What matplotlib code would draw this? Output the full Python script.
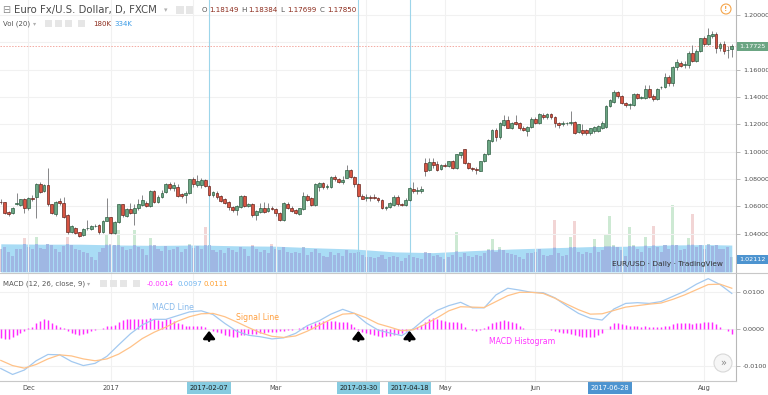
import matplotlib
matplotlib.use("Agg")
import matplotlib.pyplot as plt
import matplotlib.transforms as mtransforms
from matplotlib.patches import Rectangle, Ellipse
import numpy as np

plt.rcParams['font.family'] = ['DejaVu Sans']

W, H = 768, 395

# ---------------- data (EUR/USD daily, FXCM) ----------------
open_ = [
    1.0635, 1.0629, 1.0560, 1.0549, 1.0620, 1.0609, 1.0651, 1.0585, 1.0660, 1.0666,
    1.0763, 1.0712, 1.0755, 1.0614, 1.0540, 1.0640, 1.0626, 1.0536, 1.0414, 1.0444,
    1.0410, 1.0390, 1.0438, 1.0436, 1.0453, 1.0463, 1.0414, 1.0494, 1.0519, 1.0406,
    1.0487, 1.0614, 1.0527, 1.0578, 1.0553, 1.0585, 1.0610, 1.0625, 1.0603, 1.0714,
    1.0633, 1.0665, 1.0705, 1.0763, 1.0731, 1.0743, 1.0690, 1.0680, 1.0695, 1.0797,
    1.0757, 1.0758, 1.0790, 1.0750, 1.0682, 1.0700, 1.0672, 1.0651, 1.0633, 1.0593,
    1.0573, 1.0597, 1.0675, 1.0605, 1.0617, 1.0536, 1.0560, 1.0585, 1.0565, 1.0590,
    1.0577, 1.0553, 1.0499, 1.0617, 1.0590, 1.0575, 1.0543, 1.0578, 1.0675, 1.0658,
    1.0609, 1.0740, 1.0768, 1.0738, 1.0740, 1.0815, 1.0797, 1.0780, 1.0810, 1.0863,
    1.0815, 1.0765, 1.0675, 1.0660, 1.0665, 1.0670, 1.0663, 1.0646, 1.0588, 1.0595,
    1.0609, 1.0670, 1.0617, 1.0609, 1.0646, 1.0730, 1.0713, 1.0712, 1.0919, 1.0865,
    1.0926, 1.0907, 1.0870, 1.0905, 1.0895, 1.0931, 1.0878, 1.0975, 1.1017, 1.0919,
    1.0878, 1.0875, 1.0860, 1.0931, 1.0982, 1.1080, 1.1158, 1.1110, 1.1193, 1.1231,
    1.1175, 1.1215, 1.1207, 1.1170, 1.1153, 1.1182, 1.1239, 1.1207, 1.1268, 1.1251,
    1.1273, 1.1251, 1.1212, 1.1205, 1.1208, 1.1210, 1.1215, 1.1141, 1.1160, 1.1158,
    1.1138, 1.1150, 1.1150, 1.1175, 1.1182, 1.1334, 1.1365, 1.1434, 1.1407, 1.1358,
    1.1345, 1.1341, 1.1420, 1.1393, 1.1395, 1.1458, 1.1407, 1.1387, 1.1470, 1.1475,
    1.1548, 1.1504, 1.1622, 1.1651, 1.1637, 1.1634, 1.1724, 1.1663, 1.1739, 1.1829,
    1.1788, 1.1848, 1.1861, 1.1756, 1.1788, 1.1742, 1.1750]
high = [
    1.0650, 1.0635, 1.0565, 1.0595, 1.0695, 1.0655, 1.0660, 1.0665, 1.0680, 1.0770,
    1.0775, 1.0765, 1.0878, 1.0620, 1.0640, 1.0658, 1.0670, 1.0540, 1.0460, 1.0450,
    1.0415, 1.0440, 1.0500, 1.0465, 1.0470, 1.0470, 1.0500, 1.0658, 1.0525, 1.0495,
    1.0620, 1.0620, 1.0585, 1.0626, 1.0620, 1.0655, 1.0685, 1.0640, 1.0720, 1.0720,
    1.0680, 1.0720, 1.0770, 1.0775, 1.0775, 1.0760, 1.0700, 1.0715, 1.0800, 1.0817,
    1.0829, 1.0805, 1.0800, 1.0755, 1.0710, 1.0710, 1.0685, 1.0660, 1.0640, 1.0600,
    1.0610, 1.0680, 1.0680, 1.0625, 1.0625, 1.0575, 1.0626, 1.0630, 1.0625, 1.0600,
    1.0585, 1.0555, 1.0630, 1.0630, 1.0600, 1.0580, 1.0590, 1.0707, 1.0690, 1.0665,
    1.0770, 1.0780, 1.0780, 1.0760, 1.0822, 1.0830, 1.0805, 1.0820, 1.0905, 1.0875,
    1.0820, 1.0770, 1.0690, 1.0690, 1.0680, 1.0690, 1.0670, 1.0650, 1.0605, 1.0635,
    1.0680, 1.0680, 1.0625, 1.0660, 1.0740, 1.0778, 1.0740, 1.0745, 1.0951, 1.0950,
    1.0950, 1.0930, 1.0910, 1.0915, 1.0935, 1.0940, 1.0985, 1.0998, 1.1023, 1.0925,
    1.0890, 1.0885, 1.0935, 1.0990, 1.1090, 1.1165, 1.1170, 1.1215, 1.1268, 1.1261,
    1.1220, 1.1268, 1.1215, 1.1185, 1.1190, 1.1250, 1.1255, 1.1285, 1.1285, 1.1285,
    1.1285, 1.1260, 1.1220, 1.1225, 1.1220, 1.1296, 1.1225, 1.1205, 1.1200, 1.1165,
    1.1175, 1.1190, 1.1195, 1.1225, 1.1345, 1.1385, 1.1450, 1.1445, 1.1415, 1.1365,
    1.1355, 1.1430, 1.1430, 1.1410, 1.1488, 1.1490, 1.1420, 1.1465, 1.1480, 1.1578,
    1.1560, 1.1630, 1.1680, 1.1665, 1.1660, 1.1735, 1.1777, 1.1750, 1.1835, 1.1845,
    1.1903, 1.1880, 1.1878, 1.1800, 1.1810, 1.1770, 1.1785]
low = [
    1.0620, 1.0543, 1.0530, 1.0540, 1.0610, 1.0600, 1.0548, 1.0575, 1.0640, 1.0512,
    1.0700, 1.0705, 1.0605, 1.0545, 1.0530, 1.0610, 1.0515, 1.0395, 1.0405, 1.0400,
    1.0375, 1.0385, 1.0426, 1.0430, 1.0445, 1.0397, 1.0405, 1.0490, 1.0397, 1.0400,
    1.0480, 1.0525, 1.0520, 1.0545, 1.0463, 1.0575, 1.0600, 1.0595, 1.0595, 1.0625,
    1.0625, 1.0660, 1.0700, 1.0720, 1.0715, 1.0670, 1.0660, 1.0626, 1.0690, 1.0740,
    1.0740, 1.0735, 1.0740, 1.0675, 1.0670, 1.0655, 1.0630, 1.0615, 1.0575, 1.0560,
    1.0536, 1.0590, 1.0595, 1.0595, 1.0525, 1.0499, 1.0550, 1.0550, 1.0555, 1.0570,
    1.0529, 1.0495, 1.0495, 1.0580, 1.0560, 1.0540, 1.0535, 1.0570, 1.0640, 1.0600,
    1.0600, 1.0714, 1.0730, 1.0725, 1.0735, 1.0785, 1.0770, 1.0765, 1.0805, 1.0805,
    1.0740, 1.0665, 1.0650, 1.0640, 1.0640, 1.0650, 1.0635, 1.0580, 1.0570, 1.0590,
    1.0600, 1.0605, 1.0600, 1.0600, 1.0640, 1.0700, 1.0690, 1.0700, 1.0821, 1.0855,
    1.0880, 1.0855, 1.0865, 1.0885, 1.0885, 1.0870, 1.0870, 1.0955, 1.0910, 1.0870,
    1.0860, 1.0838, 1.0855, 1.0925, 1.0975, 1.1070, 1.1075, 1.1090, 1.1185, 1.1170,
    1.1165, 1.1195, 1.1160, 1.1150, 1.1114, 1.1175, 1.1200, 1.1200, 1.1240, 1.1240,
    1.1240, 1.1182, 1.1175, 1.1185, 1.1195, 1.1195, 1.1130, 1.1135, 1.1125, 1.1120,
    1.1120, 1.1140, 1.1145, 1.1165, 1.1175, 1.1325, 1.1355, 1.1395, 1.1350, 1.1330,
    1.1315, 1.1335, 1.1385, 1.1385, 1.1385, 1.1390, 1.1370, 1.1380, 1.1460, 1.1465,
    1.1480, 1.1480, 1.1600, 1.1620, 1.1610, 1.1610, 1.1655, 1.1655, 1.1730, 1.1775,
    1.1780, 1.1835, 1.1720, 1.1740, 1.1715, 1.1688, 1.1695]
close = [
    1.0628, 1.0553, 1.0543, 1.0590, 1.0623, 1.0651, 1.0585, 1.0658, 1.0650, 1.0763,
    1.0707, 1.0755, 1.0614, 1.0553, 1.0633, 1.0621, 1.0524, 1.0409, 1.0456, 1.0408,
    1.0385, 1.0431, 1.0441, 1.0453, 1.0457, 1.0414, 1.0494, 1.0519, 1.0406, 1.0487,
    1.0614, 1.0536, 1.0578, 1.0553, 1.0585, 1.0617, 1.0646, 1.0605, 1.0714, 1.0633,
    1.0670, 1.0700, 1.0763, 1.0731, 1.0755, 1.0675, 1.0677, 1.0700, 1.0797, 1.0763,
    1.0787, 1.0792, 1.0750, 1.0683, 1.0703, 1.0665, 1.0640, 1.0622, 1.0593, 1.0573,
    1.0604, 1.0675, 1.0604, 1.0615, 1.0536, 1.0567, 1.0585, 1.0560, 1.0590, 1.0578,
    1.0548, 1.0499, 1.0626, 1.0585, 1.0565, 1.0548, 1.0585, 1.0675, 1.0646, 1.0609,
    1.0761, 1.0768, 1.0743, 1.0748, 1.0815, 1.0797, 1.0780, 1.0795, 1.0865, 1.0815,
    1.0765, 1.0675, 1.0655, 1.0668, 1.0660, 1.0662, 1.0643, 1.0590, 1.0590, 1.0625,
    1.0670, 1.0614, 1.0610, 1.0646, 1.0736, 1.0710, 1.0715, 1.0725, 1.0858, 1.0926,
    1.0902, 1.0865, 1.0902, 1.0895, 1.0931, 1.0878, 1.0980, 1.0995, 1.0919, 1.0878,
    1.0870, 1.0865, 1.0931, 1.0982, 1.1085, 1.1158, 1.1110, 1.1207, 1.1231, 1.1175,
    1.1212, 1.1202, 1.1175, 1.1158, 1.1182, 1.1239, 1.1207, 1.1275, 1.1251, 1.1273,
    1.1251, 1.1207, 1.1195, 1.1208, 1.1210, 1.1215, 1.1138, 1.1200, 1.1134, 1.1134,
    1.1170, 1.1182, 1.1187, 1.1212, 1.1334, 1.1378, 1.1439, 1.1407, 1.1358, 1.1339,
    1.1348, 1.1420, 1.1395, 1.1398, 1.1458, 1.1398, 1.1387, 1.1458, 1.1473, 1.1548,
    1.1504, 1.1622, 1.1658, 1.1629, 1.1641, 1.1724, 1.1663, 1.1739, 1.1829, 1.1788,
    1.1854, 1.1861, 1.1756, 1.1788, 1.1739, 1.1745, 1.1773]

# volume in thousands
volume_k = [
    280, 310, 250, 200, 290, 280, 420, 310, 280, 440,
    300, 290, 350, 330, 280, 250, 320, 440, 330, 280,
    270, 250, 230, 180, 150, 250, 300, 460, 350, 330,
    520, 310, 270, 280, 520, 310, 290, 210, 420, 330,
    280, 260, 320, 270, 280, 310, 250, 280, 350, 300,
    320, 290, 560, 330, 270, 250, 270, 230, 300, 270,
    250, 310, 290, 200, 330, 280, 250, 270, 230, 350,
    280, 270, 310, 250, 230, 250, 240, 310, 210, 250,
    290, 230, 200, 190, 250, 210, 230, 200, 270, 240,
    230, 250, 210, 180, 190, 170, 180, 210, 160, 180,
    200, 190, 140, 170, 210, 190, 170, 160, 250, 230,
    200, 210, 190, 160, 180, 210, 490, 190, 230, 200,
    190, 210, 200, 230, 280, 410, 250, 310, 270, 230,
    220, 210, 190, 160, 230, 240, 250, 280, 210, 200,
    210, 650, 230, 200, 210, 430, 630, 250, 220, 250,
    230, 410, 250, 270, 470, 700, 330, 310, 270, 200,
    560, 330, 290, 250, 430, 300, 570, 310, 250, 330,
    290, 830, 330, 270, 290, 420, 720, 310, 330, 290,
    350, 320, 330, 290, 280, 310, 180]
vol_ma_bar = [0, 10, 20, 30, 40, 50, 60, 70, 80, 90, 100, 110, 120, 130, 140, 150, 160, 170, 180, 186]
vol_ma_k = [350, 345, 345, 335, 330, 335, 325, 320, 300, 285, 250, 240, 265, 285, 300, 315, 320, 335, 340, 334]

# MACD (12, 26, close, 9), lines read every third bar
macd_bar = list(range(0, 97, 3)) + list(range(99, 187, 3))
macd_line = [
    -0.0106, -0.0122, -0.0110, -0.0085, -0.0068, -0.0069, -0.0087, -0.0098, -0.0092, -0.0073,
    -0.0042, -0.0012, 0.0012, 0.0027, 0.0027, 0.0037, 0.0047, 0.0050, 0.0040, 0.0016,
    -0.0005, -0.0016, -0.0020, -0.0026, -0.0023, -0.0011, 0.0010, 0.0023, 0.0041, 0.0054,
    0.0043, 0.0017, -0.0002,
    -0.0010, -0.0017, 0.0002, 0.0029, 0.0051, 0.0064, 0.0073, 0.0058, 0.0058, 0.0093,
    0.0111, 0.0106, 0.0100, 0.0099, 0.0085, 0.0063, 0.0043, 0.0030, 0.0025, 0.0055,
    0.0070, 0.0072, 0.0070, 0.0075, 0.0089, 0.0103, 0.0122, 0.0137, 0.0121, 0.0097]
signal_line = [
    -0.0084, -0.0098, -0.0105, -0.0095, -0.0080, -0.0069, -0.0072, -0.0080, -0.0085, -0.0080,
    -0.0067, -0.0048, -0.0025, -0.0008, 0.0006, 0.0022, 0.0034, 0.0042, 0.0043, 0.0034,
    0.0020, 0.0005, -0.0009, -0.0019, -0.0022, -0.0018, -0.0005, 0.0011, 0.0027, 0.0041,
    0.0043, 0.0031, 0.0015,
    0.0006, -0.0004, -0.0001, 0.0014, 0.0031, 0.0050, 0.0061, 0.0060, 0.0059, 0.0075,
    0.0091, 0.0100, 0.0100, 0.0097, 0.0084, 0.0068, 0.0053, 0.0041, 0.0042, 0.0051,
    0.0060, 0.0064, 0.0068, 0.0071, 0.0081, 0.0093, 0.0107, 0.0121, 0.0122, 0.0111]
macd_hist = [
    -0.0024, -0.0027, -0.0027, -0.0022, -0.0015, -0.0009, -0.0004,
    0.0003, 0.0007,
    0.0016, 0.0023, 0.0027, 0.0025, 0.0018, 0.0012, 0.0007, 0.0003,
    -0.0004, -0.0009, -0.0013, -0.0015, -0.0013, -0.0009, -0.0005, -0.0002,
    0.0000, 0.0003, 0.0009, 0.0009, 0.0012, 0.0021, 0.0025, 0.0027,
    0.0027, 0.0027, 0.0027, 0.0028, 0.0027, 0.0030, 0.0028, 0.0025,
    0.0023, 0.0027, 0.0027, 0.0023, 0.0018, 0.0014, 0.0010, 0.0009,
    0.0009, 0.0009, 0.0009, 0.0007, 0.0000, -0.0004, -0.0006, -0.0011,
    -0.0015, -0.0018, -0.0022, -0.0020, -0.0015, -0.0015, -0.0013, -0.0013,
    -0.0013, -0.0009, -0.0009, -0.0006, -0.0006, -0.0006, -0.0004, -0.0004,
    -0.0002, -0.0002, 0.0000, 0.0003, 0.0007, 0.0009, 0.0012, 0.0016,
    0.0021, 0.0023, 0.0023, 0.0023, 0.0023, 0.0021, 0.0019, 0.0019,
    0.0014, 0.0007, -0.0002, -0.0006, -0.0011, -0.0013, -0.0015, -0.0018,
    -0.0020, -0.0018, -0.0018, -0.0015, -0.0013, -0.0009, -0.0004, 0.0000,
    0.0003, 0.0007, 0.0012, 0.0021, 0.0027, 0.0030, 0.0027, 0.0025,
    0.0023, 0.0021, 0.0021, 0.0019, 0.0016, 0.0007, 0.0000, -0.0003,
    -0.0004, -0.0002, 0.0003, 0.0009, 0.0016, 0.0021, 0.0023, 0.0025,
    0.0023, 0.0021, 0.0016, 0.0010, 0.0003, 0.0001, 0.0000, 0.0001,
    0.0001, 0.0000, 0.0000, -0.0002, -0.0004, -0.0006, -0.0009, -0.0011,
    -0.0013, -0.0015, -0.0018, -0.0020, -0.0022, -0.0020, -0.0020, -0.0015,
    -0.0011, 0.0000, 0.0009, 0.0018, 0.0018, 0.0014, 0.0012, 0.0010,
    0.0009, 0.0009, 0.0007, 0.0009, 0.0007, 0.0005, 0.0005, 0.0007,
    0.0009, 0.0010, 0.0014, 0.0016, 0.0016, 0.0016, 0.0016, 0.0014,
    0.0016, 0.0018, 0.0021, 0.0021, 0.0019, 0.0014, 0.0007, 0.0000,
    -0.0004, -0.0014]

# time axis (bar numbers)
month_ticks = [7, 28, 70, 113, 136, 179]
month_labels = ["Dec", "2017", "Mar", "May", "Jun", "Aug"]
grid_bars = [7, 28, 49, 70, 93, 113, 136, 158, 179]
marked_bars = [53, 91, 104]
marked_labels = ["2017-02-07", "2017-03-30", "2017-04-18"]
cursor_bar = 155
cursor_label = "2017-06-28"

price_ticks = [1.04, 1.06, 1.08, 1.10, 1.12, 1.14, 1.16, 1.18, 1.20]
macd_ticks = [-0.01, 0.0, 0.01]
last_price = 1.17725
cursor_price = 1.02112

# ---------------- colours ----------------
UP, UP_EDGE = "#6ba583", "#225437"
DN, DN_EDGE = "#d75442", "#5b1a13"
WICK = "#737375"
GRID = "#f1f1f1"
AXIS_TXT = "#4e4e4e"


def fx(x):
    return x / W


def fy(y):
    return 1 - y / H


fig = plt.figure(figsize=(W / 100, H / 100), dpi=100)
fig.patch.set_facecolor("white")

ax = fig.add_axes([0, fy(272), fx(736), 272 / H])
axm = fig.add_axes([0, fy(381), fx(736), 108 / H])
axv = ax.twinx()

o = np.array(open_)
c = np.array(close)
hi = np.array(high)
lo = np.array(low)
bars = np.arange(len(c))
up = c >= o

ax.set_xlim(-0.2, 187.07)
ax.set_ylim(1.0119, 1.2110)
axm.set_xlim(-0.2, 187.07)
axm.set_ylim(-0.01397, 0.01522)

# ---- volume (behind the candles) ----
ax.set_zorder(2)
ax.patch.set_visible(False)
axv.set_zorder(1)
axv.set_ylim(0, 3373)
axv.set_axis_off()
vol_cols = np.where(up, "#cde9d3", "#f2d5d5")
axv.bar(bars, volume_k, width=0.78, color=vol_cols, linewidth=0, zorder=1)
ma_area = axv.fill_between(vol_ma_bar, vol_ma_k, color="#a9dcf5", linewidth=0, zorder=2)
under = axv.bar(bars, volume_k, width=0.78, color="#9fb7e3", linewidth=0, zorder=3)
clip = ma_area.get_paths()[0]
for p in under:
    p.set_clip_path(clip, axv.transData)

# ---- grid ----
for b in grid_bars:
    ax.axvline(b, color=GRID, lw=0.8, zorder=0)
    axm.axvline(b, color=GRID, lw=0.8, zorder=0)
for p in price_ticks:
    ax.axhline(p, color=GRID, lw=0.8, zorder=0)
for v in macd_ticks:
    axm.axhline(v, color=GRID, lw=0.8, zorder=0)

# drawn vertical lines
for b in marked_bars:
    ax.axvline(b, color="#9dd5ea", lw=0.8, zorder=3)

# current price line
ax.axhline(last_price, color="#f3aaa2", lw=0.7, ls=(0, (1.5, 1.5)), zorder=3)

# ---- candles ----
ax.vlines(bars, lo, hi, color=WICK, lw=0.6, zorder=4)
body_lo = np.minimum(o, c)
body_h = np.maximum(np.abs(c - o), 0.0004)
ax.bar(bars, body_h, bottom=body_lo, width=0.72,
       color=np.where(up, UP, DN), edgecolor=np.where(up, UP_EDGE, DN_EDGE),
       linewidth=0.45, zorder=5)

# ---- MACD pane ----
axm.vlines(bars, 0, macd_hist, color="#ff2bff", lw=1.05, zorder=2)
axm.plot(macd_bar, macd_line, color="#a3c9f0", lw=0.9, zorder=3)
axm.plot(macd_bar, signal_line, color="#ffc288", lw=0.9, zorder=3)
for b in marked_bars:
    axm.annotate("", xy=(b, -0.0004), xytext=(b, -0.0031),
                 arrowprops=dict(arrowstyle="-|>,head_width=0.35,head_length=0.45",
                                 color="black", lw=1.8, shrinkA=0, shrinkB=0),
                 zorder=6)

# ---- axes styling ----
for a in (ax, axm):
    for s in ("left", "top", "bottom"):
        a.spines[s].set_visible(False)
    a.spines["right"].set_color("#b8b8b8")
    a.spines["right"].set_linewidth(0.8)
    a.yaxis.tick_right()
    a.tick_params(axis="x", length=0, labelbottom=False)
    a.tick_params(axis="y", direction="out", length=3, width=0.6, color="#b0b0b0",
                  labelsize=4.6, labelcolor=AXIS_TXT, pad=2)
ax.set_yticks(price_ticks)
# the 1.18000 label sits under the last-price box
ax.set_yticklabels(["" if abs(p - 1.18) < 1e-9 else f"{p:.5f}" for p in price_ticks])
axm.set_yticks(macd_ticks)
axm.set_yticklabels([f"{v:.4f}" for v in macd_ticks])

# price axis value boxes
for price, col in ((last_price, "#6ba583"), (cursor_price, "#4d94d0")):
    ax.annotate(f"{price:.5f}", xy=(1, price), xycoords=("axes fraction", "data"),
                xytext=(3.5, 0), textcoords="offset pixels", ha="left", va="center",
                fontsize=4.6, color="white", annotation_clip=False,
                bbox=dict(boxstyle="square,pad=0.32", fc=col, ec="none"), zorder=10)

# pane separators
fig.add_artist(plt.Line2D([0, 1], [fy(272.6), fy(272.6)], color="#c8c8c8", lw=0.8,
                          transform=fig.transFigure))
fig.add_artist(plt.Line2D([0, fx(736)], [fy(381), fy(381)], color="#c8c8c8", lw=0.8,
                          transform=fig.transFigure))

# ---- time axis labels ----
bt = mtransforms.blended_transform_factory(axm.transData, fig.transFigure)
for b, lab in zip(month_ticks, month_labels):
    axm.text(b, fy(388), lab, transform=bt, ha="center", va="center", fontsize=4.8,
             color=AXIS_TXT, clip_on=False)
for b, lab in zip(marked_bars, marked_labels):
    axm.text(b, fy(388), lab, transform=bt, ha="center", va="center", fontsize=4.8,
             color="#1e1e1e", clip_on=False,
             bbox=dict(boxstyle="square,pad=0.4", fc="#86cbe0", ec="none"))
axm.text(cursor_bar, fy(388), cursor_label, transform=bt, ha="center", va="center",
         fontsize=4.8, color="white", clip_on=False,
         bbox=dict(boxstyle="square,pad=0.4", fc="#4d94d0", ec="none"))


# ---- legends / header ----
def t(x, y, s, size=5.0, color=AXIS_TXT, **kw):
    fig.text(fx(x), fy(y), s, fontsize=size, color=color, ha="left", va="center", **kw)


def icon(x, y, w=8, h=8):
    fig.add_artist(Rectangle((fx(x), fy(y + h / 2)), w / W, h / H, fc="#e6e6e6",
                             ec="none", transform=fig.transFigure))


t(2, 10, "\u229f", size=7, color="#8a8a8a")
t(14, 10, "Euro Fx/U.S. Dollar, D, FXCM", size=7.3, color="#4a4a4a")
t(164, 10, "\u25be", size=5, color="#b0b0b0")
icon(176, 9.5)
icon(186, 9.5)
VAL = "#8c2b1c"
for lx, letter, vx, val in ((202, "O", 209, "1.18149"), (241, "H", 248, "1.18384"),
                            (280, "L", 287, "1.17699"), (320, "C", 327, "1.17850")):
    t(lx, 10, letter, size=5.1, color="#555555")
    t(vx, 10, val, size=5.1, color=VAL)

t(3, 24, "Vol (20)", size=5.0, color="#555555")
t(33, 24, "\u25be", size=4.5, color="#b0b0b0")
for ix in (45, 55, 65, 78):
    icon(ix, 23.5, 7, 7)
t(93, 24, "180K", size=5.0, color=VAL)
t(114, 24, "334K", size=5.0, color="#3b9be6")

t(3, 284, "MACD (12, 26, close, 9)", size=5.0, color="#555555")
t(87, 284, "\u25be", size=4.5, color="#b0b0b0")
for ix in (100, 110, 120, 133):
    icon(ix, 283.5, 7, 7)
t(147, 284, "-0.0014", size=5.0, color="#ff33ff")
t(178, 284, "0.0097", size=5.0, color="#6fb4f0")
t(204, 284, "0.0111", size=5.0, color="#ff9f2e")

# annotations
fig.text(fx(173), fy(307), "MACD Line", fontsize=5.6, color="#86b9ec", ha="center", va="center")
fig.text(fx(258), fy(317), "Signal Line", fontsize=5.6, color="#ffa040", ha="center", va="center")
fig.text(fx(522), fy(342), "MACD Histogram", fontsize=5.6, color="#ff33ff", ha="center", va="center")

fig.text(fx(667), fy(264), "EUR/USD \u00b7 Daily \u00b7 TradingView", fontsize=5.3,
         color="#333333", ha="center", va="center")

# warning marker and scroll button
fig.add_artist(Ellipse((fx(726), fy(9)), 10 / W, 10 / H, fc="white", ec="#f5a54a", lw=0.8,
                       transform=fig.transFigure))
fig.text(fx(726), fy(9), "!", fontsize=5, color="#f5a54a", ha="center", va="center",
         fontweight="bold")
fig.add_artist(Ellipse((fx(723), fy(363)), 18 / W, 18 / H, fc="#f6f6f6", ec="#d8d8d8",
                       lw=0.8, transform=fig.transFigure))
fig.text(fx(723), fy(363), "\u00bb", fontsize=7, color="#8a8a8a", ha="center", va="center")

fig.savefig("out.png", dpi=100, facecolor="white")
